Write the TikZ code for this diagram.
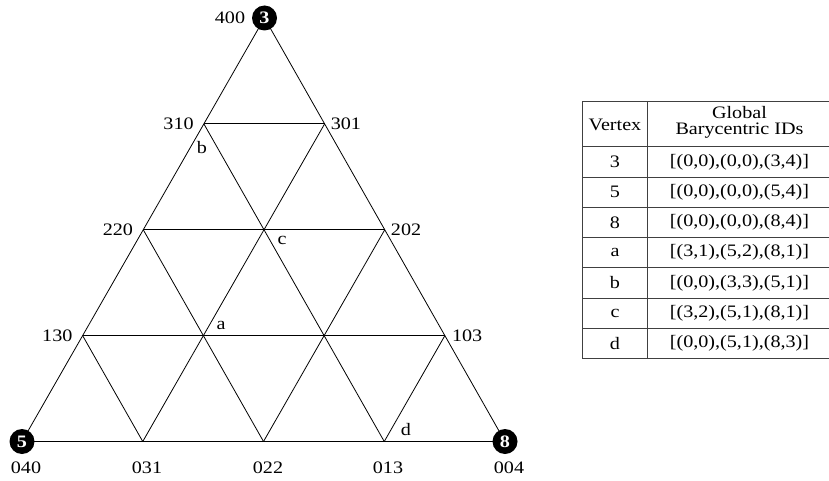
\documentclass[tikz,border=0pt]{standalone}
\usepackage{fontspec}
\setmainfont{Liberation Serif}[FakeStretch=1.15]
\begin{document}
\begin{tikzpicture}[x=1pt,y=-1pt,
  font=\fontsize{17.5}{20}\selectfont,
  edge/.style={line width=0.8pt},
  vtx/.style={circle,fill=black,text=white,inner sep=0pt,minimum size=25pt,font=\fontsize{17.5}{20}\selectfont\bfseries},
  lbl/.style={inner sep=0pt},
  tline/.style={line width=1pt,draw=black!75},
  cell/.style={inner sep=0pt,anchor=center}]
\useasboundingbox (0,0) rectangle (829,481);
\coordinate (A) at (264.5,18);
\coordinate (L) at (22,441.5);
\coordinate (R) at (505,441.5);
\foreach \i in {0,...,4}{
  \foreach \j in {0,...,4}{
    \pgfmathtruncatemacro\k{4-\i-\j}
    \ifnum\k<0\relax\else
      \coordinate (p\i\j\k) at (barycentric cs:A=\i,L=\j,R=\k);
    \fi
  }
}
% outer triangle and grid
\draw[edge] (p400) -- (p040) -- (p004) -- cycle;
\draw[edge] (p310) -- (p301);
\draw[edge] (p220) -- (p202);
\draw[edge] (p130) -- (p103);
\draw[edge] (p310) -- (p013);
\draw[edge] (p220) -- (p022);
\draw[edge] (p130) -- (p031);
\draw[edge] (p301) -- (p031);
\draw[edge] (p202) -- (p022);
\draw[edge] (p103) -- (p013);
% vertex circles
\node[vtx] (v3) at (p400) {3};
\node[vtx] (v5) at (p040) {5};
\node[vtx] (v8) at (p004) {8};
% barycentric labels
\node[lbl] (l400) at (230,18) {400};
\node[lbl,anchor=east] (l310) at ([xshift=-10pt]p310) {310};
\node[lbl,anchor=west] (l301) at ([xshift=6pt]p301) {301};
\node[lbl,anchor=east] (l220) at ([xshift=-10pt]p220) {220};
\node[lbl,anchor=west] (l202) at ([xshift=6pt]p202) {202};
\node[lbl,anchor=east] (l130) at ([xshift=-10pt]p130) {130};
\node[lbl,anchor=west] (l103) at ([xshift=7pt]p103) {103};
\node[lbl] (l040) at (26,468) {040};
\node[lbl] (l031) at (147,468) {031};
\node[lbl] (l022) at (268,468) {022};
\node[lbl] (l013) at (388,468) {013};
\node[lbl] (l004) at (509,468) {004};
% point labels
\node[lbl] (lb) at (202,148) {b};
\node[lbl] (lc) at (282,240) {c};
\node[lbl] (la) at (221,325) {a};
\node[lbl] (ld) at (406,430) {d};
% table
\draw[tline] (829,101.5) -- (582.5,101.5) -- (582.5,358.5) -- (829,358.5);
\draw[tline] (647.5,101.5) -- (647.5,358.5);
\foreach \yy in {147,177.2,207.4,237.6,267.8,298,328.2}{
  \draw[tline] (582.5,\yy) -- (829,\yy);
}
\node[cell] (hv) at (615,125) {Vertex};
\node[cell,align=center,font=\fontsize{17.5}{16.5}\selectfont] (hg) at (739.5,122.5) {Global\\Barycentric IDs};
\node[cell] (r1a) at (615,162) {3};
\node[cell] (r1b) at (739.5,162) {[(0,0),(0,0),(3,4)]};
\node[cell] (r2a) at (615,192.2) {5};
\node[cell] (r2b) at (739.5,192.2) {[(0,0),(0,0),(5,4)]};
\node[cell] (r3a) at (615,222.4) {8};
\node[cell] (r3b) at (739.5,222.4) {[(0,0),(0,0),(8,4)]};
\node[cell] (r4a) at (615,252.6) {a};
\node[cell] (r4b) at (739.5,252.6) {[(3,1),(5,2),(8,1)]};
\node[cell] (r5a) at (615,282.8) {b};
\node[cell] (r5b) at (739.5,282.8) {[(0,0),(3,3),(5,1)]};
\node[cell] (r6a) at (615,313) {c};
\node[cell] (r6b) at (739.5,313) {[(3,2),(5,1),(8,1)]};
\node[cell] (r7a) at (615,343.3) {d};
\node[cell] (r7b) at (739.5,343.3) {[(0,0),(5,1),(8,3)]};
\end{tikzpicture}
\end{document}
